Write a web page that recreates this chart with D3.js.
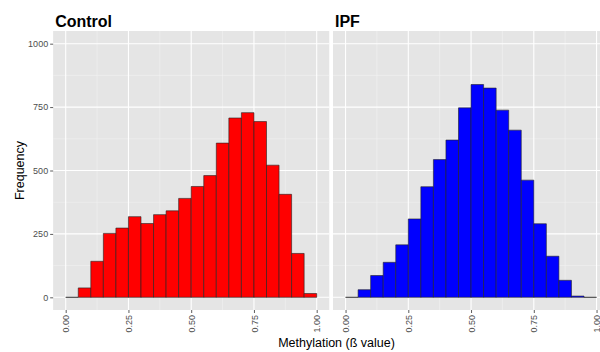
<!DOCTYPE html>
<html>
<head>
<meta charset="utf-8">
<script src="https://cdn.jsdelivr.net/npm/d3@7"></script>
<style>
  html, body { margin: 0; padding: 0; background: #fff; }
  svg { display: block; font-family: "Liberation Sans", Arial, sans-serif; }
</style>
</head>
<body>
<svg id="chart" width="600" height="352"></svg>
<script>
// Histogram bins of methylation beta values (bin width 0.05)
const binStarts = [0.00, 0.05, 0.10, 0.15, 0.20, 0.25, 0.30, 0.35, 0.40, 0.45,
                   0.50, 0.55, 0.60, 0.65, 0.70, 0.75, 0.80, 0.85, 0.90, 0.95];
const binWidth = 0.05;

// Counts per bin
const controlCounts = [0, 37, 142, 252, 273, 318, 291, 326, 341, 390,
                       437, 480, 608, 707, 728, 693, 521, 406, 173, 15];
const ipfCounts = [0, 30, 86, 138, 207, 309, 436, 543, 620, 747,
                   839, 825, 738, 659, 462, 290, 162, 67, 5, 0];

const panelTitles = ["Control", "IPF"];
const panelFills = ["#FF0000", "#0000FF"];

const xTicks = [0, 0.25, 0.5, 0.75, 1];
const xMinor = [0.125, 0.375, 0.625, 0.875];
const yTicks = [0, 250, 500, 750, 1000];
const yMinor = [125, 375, 625, 875];

const yLabel = "Frequency";
const xLabel = "Methylation (ß value)";

const svg = d3.select("#chart");

const panelTop = 31, panelBottom = 310, panelW = 276.1;
const panelLefts = [53.15, 333];

const y = d3.scaleLinear().domain([-50, 1050]).range([panelBottom, panelTop]);

const series = [controlCounts, ipfCounts];

series.forEach((counts, i) => {
  const left = panelLefts[i];
  const x = d3.scaleLinear().domain([-0.05, 1.05]).range([left, left + panelW]);
  const g = svg.append("g");

  // panel background
  g.append("rect")
    .attr("x", left).attr("y", panelTop)
    .attr("width", panelW).attr("height", panelBottom - panelTop)
    .attr("fill", "#E5E5E5");

  // minor grid
  g.selectAll(".ymin").data(yMinor).enter().append("line")
    .attr("x1", left).attr("x2", left + panelW)
    .attr("y1", d => y(d)).attr("y2", d => y(d))
    .attr("stroke", "#F2F2F2").attr("stroke-width", 0.6);
  g.selectAll(".xmin").data(xMinor).enter().append("line")
    .attr("y1", panelTop).attr("y2", panelBottom)
    .attr("x1", d => x(d)).attr("x2", d => x(d))
    .attr("stroke", "#F2F2F2").attr("stroke-width", 0.6);

  // major grid
  g.selectAll(".ymaj").data(yTicks).enter().append("line")
    .attr("x1", left).attr("x2", left + panelW)
    .attr("y1", d => y(d)).attr("y2", d => y(d))
    .attr("stroke", "#FFFFFF").attr("stroke-width", 1.1);
  g.selectAll(".xmaj").data(xTicks).enter().append("line")
    .attr("y1", panelTop).attr("y2", panelBottom)
    .attr("x1", d => x(d)).attr("x2", d => x(d))
    .attr("stroke", "#FFFFFF").attr("stroke-width", 1.1);

  // bars (as closed paths so empty bins still show their outline)
  g.selectAll(".bar").data(binStarts.map((b, k) => ({ b, c: counts[k] })))
    .enter().append("path")
    .attr("d", d => {
      const x0 = x(d.b), x1 = x(d.b + binWidth), y0 = y(0), y1 = y(d.c);
      return `M${x0},${y0}L${x0},${y1}L${x1},${y1}L${x1},${y0}Z`;
    })
    .attr("fill", panelFills[i])
    .attr("stroke", "#222")
    .attr("stroke-width", 0.6);

  // x axis
  const xAxis = d3.axisBottom(x).tickValues(xTicks).tickSize(3).tickPadding(2)
    .tickFormat(d3.format(".2f"));
  const ax = g.append("g").attr("transform", `translate(0,${panelBottom})`).call(xAxis);
  ax.select(".domain").remove();
  ax.selectAll(".tick line").attr("stroke", "#333").attr("stroke-width", 0.8);
  ax.selectAll(".tick text")
    .attr("fill", "#4D4D4D").attr("font-size", 9)
    .attr("font-family", "Liberation Sans, Arial, sans-serif")
    .attr("text-anchor", "end")
    .attr("transform", "translate(0,5) rotate(-90)")
    .attr("x", 0).attr("y", 0).attr("dy", "0.35em");

  // panel title
  svg.append("text")
    .attr("x", left + 2).attr("y", 26.7)
    .attr("font-size", 16).attr("font-weight", "bold").attr("fill", "#000")
    .text(panelTitles[i]);

  if (i === 0) {
    const yAxis = d3.axisLeft(y).tickValues(yTicks).tickSize(3).tickPadding(2)
      .tickFormat(d3.format("d"));
    const ay = svg.append("g").attr("transform", `translate(${left},0)`).call(yAxis);
    ay.select(".domain").remove();
    ay.selectAll(".tick line").attr("stroke", "#333").attr("stroke-width", 0.8);
    ay.selectAll(".tick text").attr("fill", "#4D4D4D").attr("font-size", 9)
      .attr("font-family", "Liberation Sans, Arial, sans-serif");
  }
});

// axis titles
svg.append("text")
  .attr("transform", `translate(24,${(panelTop + panelBottom) / 2}) rotate(-90)`)
  .attr("text-anchor", "middle")
  .attr("font-size", 12.5).attr("fill", "#000")
  .text(yLabel);

svg.append("text")
  .attr("x", 336.5).attr("y", 346.5)
  .attr("text-anchor", "middle")
  .attr("font-size", 12.5).attr("fill", "#000")
  .text(xLabel);
</script>
</body>
</html>
